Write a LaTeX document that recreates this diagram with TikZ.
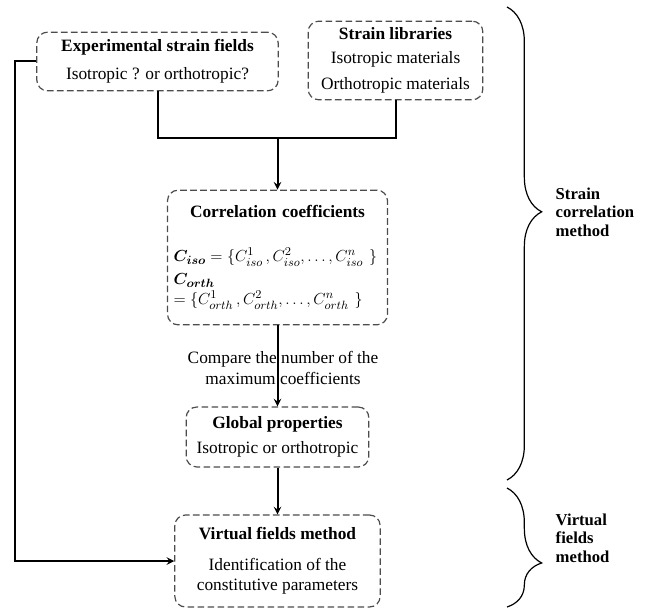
\documentclass[tikz,border=0pt]{standalone}
\usepackage{amsmath,bm}
\usepackage{fontspec}
\setmainfont{Liberation Serif}
\usetikzlibrary{decorations.pathreplacing}
\tikzset{
  dbox/.style={draw=black!70, line width=0.9pt, dash pattern=on 5pt off 2.5pt, rounded corners=8pt, align=center, inner sep=0pt},
  lnk/.style={line width=1.5pt},
  brc/.style={decorate, line width=0.9pt, decoration={brace, amplitude=26pt}},
  side/.style={anchor=west, align=left, font=\fontsize{12.5}{14}\selectfont\bfseries}
}
\begin{document}
\begin{tikzpicture}[>=stealth, x=0.75pt, y=-0.75pt, font=\fontsize{13}{15}\selectfont]
    \useasboundingbox (0,0) rectangle (648,609);
    \node[dbox, minimum width=181pt, minimum height=44pt] (exp) at (157.5,61.5) {\textbf{Experimental strain fields}\\[6pt]Isotropic ? or orthotropic?};
    \node[dbox, minimum width=131pt, minimum height=59pt] (lib) at (395.5,60.5) {\textbf{Strain libraries}\\[3pt]Isotropic materials\\[4.5pt]Orthotropic materials};
    \node[dbox, minimum width=165pt, minimum height=101pt, text width=156pt, align=left] (corr) at (277.5,257.5) {\makebox[\hsize]{\textbf{Correlation coefficients}}\\[18pt]
        $\bm{C}_{\bm{iso}} = \{C_{iso}^{1}\,, C_{iso}^{2}, \dots, C_{iso}^{n}\ \}$\\[2pt]
        $\bm{C}_{\bm{orth}}$\\
        $= \{C_{orth}^{1}\,, C_{orth}^{2}, \dots, C_{orth}^{n}\ \}$};
    \node[dbox, minimum width=137pt, minimum height=45pt] (glob) at (277.5,437) {\textbf{Global properties}\\[4pt]Isotropic or orthotropic};
    \node[dbox, minimum width=154pt, minimum height=69pt] (vfm) at (277.5,561) {\textbf{Virtual fields method}\\[8pt]Identification of the\\constitutive parameters};
    \node[align=center] (cmp) at (283,368) {Compare the number of the\\[1pt]maximum coefficients};
    \coordinate (join) at (277.5,138);
    \coordinate (back) at (15,561);
    \draw[lnk] (exp.south) |- (join) -| (lib.south);
    \draw[lnk,->] (join) -- (corr.north);
    \draw[lnk,->] (corr.south) -- (glob.north);
    \draw[lnk,->] (glob.south) -- (vfm.north);
    \draw[lnk,->] (exp.west) -| (back) -- (vfm.west);
    \draw[brc, decoration={aspect=0.433}] (507,7) -- (507,480);
    \draw[brc, decoration={aspect=0.63}] (507,488) -- (507,607);
    \node[side] (scm) at (551,212) {Strain\\correlation\\method};
    \node[side] (vfl) at (551,538) {Virtual\\fields\\method};
\end{tikzpicture}
\end{document}
